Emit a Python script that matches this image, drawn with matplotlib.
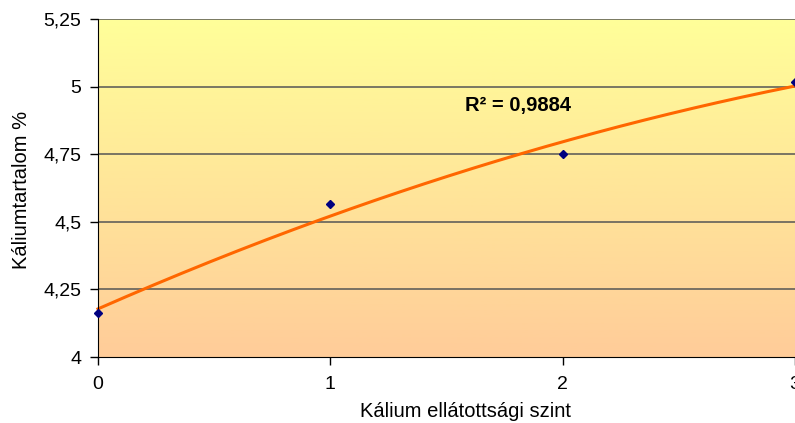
import numpy as np
import matplotlib
matplotlib.use("Agg")
import matplotlib.pyplot as plt
from matplotlib.colors import LinearSegmentedColormap

plt.rcParams['font.family'] = ['Liberation Sans', 'DejaVu Sans']

x_vals = [0, 1, 2, 3]
y_vals = [4.163, 4.566, 4.751, 5.017]
y_ticks = [4.0, 4.25, 4.5, 4.75, 5.0, 5.25]
y_tick_labels = ["4", "4,25", "4,5", "4,75", "5", "5,25"]
x_ticks = [0, 1, 2, 3]
x_tick_labels = ["0", "1", "2", "3"]
r2_label = "R² = 0,9884"
xlabel = "Kálium ellátottsági szint"
ylabel = "Káliumtartalom %"

W, H = 795, 423
fig = plt.figure(figsize=(W / 100, H / 100), dpi=100)
ax = fig.add_axes([98 / W, 1 - 357 / H, 697 / W, 338 / H])

# gradient background
cmap = LinearSegmentedColormap.from_list("bg", ["#FFCC99", "#FFFF99"])
grad = np.linspace(0, 1, 256).reshape(-1, 1)
ax.imshow(grad, extent=[0, 3, 4.0, 5.25], origin='lower', aspect='auto',
          cmap=cmap, zorder=0)

for t in y_ticks[1:]:
    ax.axhline(t, color='#555555', lw=1.1, zorder=1)

coef = np.polyfit(x_vals, y_vals, 2)
xs = np.linspace(0, 3, 200)
ax.plot(xs, np.polyval(coef, xs), color='#FF6600', lw=2.2, zorder=2, clip_on=False)
ax.plot(x_vals, y_vals, linestyle='none', marker='D', ms=4.5, color='#000080',
        zorder=3, clip_on=False)

ax.text(1.58, 4.91, r2_label, fontsize=14.5, fontweight='bold', ha='left', va='baseline')

ax.set_xlim(0, 3)
ax.set_ylim(4.0, 5.25)
ax.set_xticks(x_ticks)
ax.set_xticklabels(x_tick_labels)
ax.set_yticks(y_ticks)
ax.set_yticklabels(y_tick_labels)
ax.tick_params(axis='both', labelsize=14, direction='out', length=6, width=1, color='black')
ax.tick_params(axis='x', pad=8)
ax.tick_params(axis='y', pad=6)
for s in ['top', 'right']:
    ax.spines[s].set_visible(False)
ax.spines['left'].set_color('black')
ax.spines['bottom'].set_color('black')

fig.text(466 / W, (H - 417) / H, xlabel, fontsize=14.5, ha='center', va='baseline')
fig.text(22 / W, (H - 190) / H, ylabel, fontsize=14.5, ha='center', va='center',
         rotation=90)

fig.savefig("out.png", dpi=100)
